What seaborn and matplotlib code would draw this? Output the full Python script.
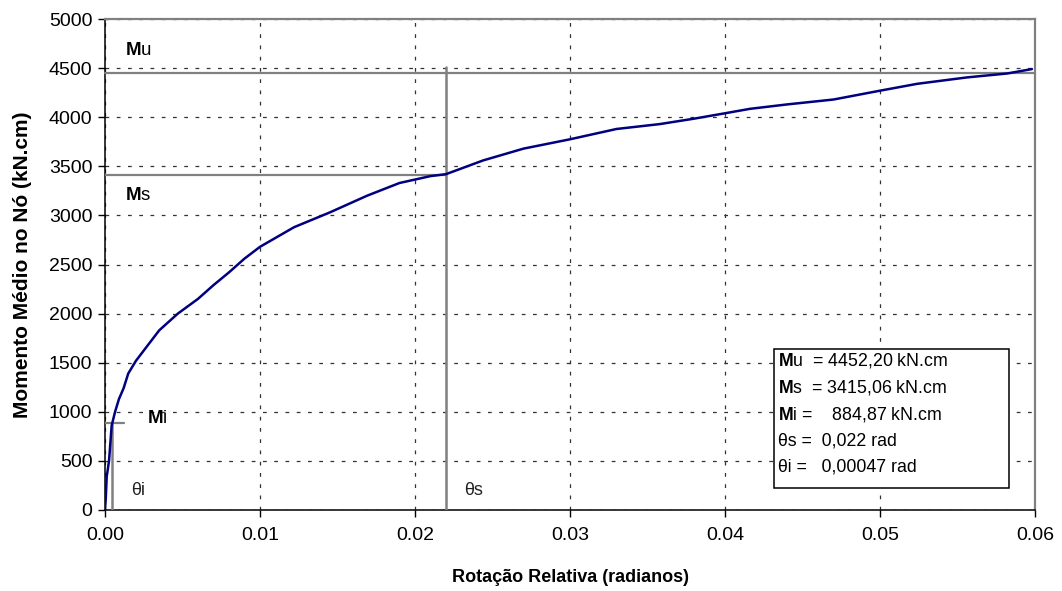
import matplotlib
matplotlib.use("Agg")
import matplotlib.pyplot as plt
import pandas as pd
import seaborn as sns
from matplotlib.patches import Rectangle
from matplotlib.ticker import FormatStrFormatter

# Moment-rotation curve of the joint (rad, kN.cm)
rotacao = [0.0, 0.00005, 0.00011, 0.00026, 0.00043, 0.00047, 0.00065, 0.0009,
           0.0012, 0.0015, 0.0020, 0.0027, 0.0035, 0.0047, 0.0060, 0.0070,
           0.0080, 0.0090, 0.0100, 0.0122, 0.0145, 0.0169, 0.0190, 0.0210,
           0.0220, 0.0244, 0.0270, 0.0300, 0.0330, 0.0358, 0.0380, 0.0400,
           0.0416, 0.0440, 0.0470, 0.0500, 0.0524, 0.0556, 0.0582, 0.0598]
momento = [0, 120, 340, 500, 860, 885, 1000, 1130,
           1240, 1390, 1520, 1665, 1830, 2000, 2150, 2290,
           2420, 2560, 2680, 2880, 3030, 3200, 3330, 3400,
           3420, 3560, 3680, 3775, 3880, 3930, 3985, 4040,
           4085, 4130, 4180, 4270, 4340, 4405, 4445, 4490]

# Characteristic values
m_u = 4452.20
m_s = 3415.06
m_i = 884.87
theta_s = 0.022
theta_i = 0.00047

legend_lines = [
    r"$\mathbf{M}$u  = 4452,20 kN.cm",
    r"$\mathbf{M}$s  = 3415,06 kN.cm",
    r"$\mathbf{M}$i =    884,87 kN.cm",
    "θs =  0,022 rad",
    "θi =   0,00047 rad",
]

x_ticks = [0.00, 0.01, 0.02, 0.03, 0.04, 0.05, 0.06]
y_ticks = [0, 500, 1000, 1500, 2000, 2500, 3000, 3500, 4000, 4500, 5000]

sns.set_theme(style="white")
plt.rcParams["font.family"] = ["Liberation Sans", "DejaVu Sans"]
plt.rcParams["mathtext.fontset"] = "custom"
plt.rcParams["mathtext.bf"] = "Liberation Sans:bold"
plt.rcParams["mathtext.rm"] = "Liberation Sans"
plt.rcParams["mathtext.it"] = "Liberation Sans:italic"

W, H = 1062, 591
fig = plt.figure(figsize=(W / 100, H / 100), dpi=100)
ax = fig.add_axes([105 / W, (H - 510) / H, 930 / W, 491 / H])

df = pd.DataFrame({"rotacao": rotacao, "momento": momento})

grey = "#808080"
# reference lines for the characteristic points
ax.plot([0, 0.06], [m_u, m_u], color=grey, lw=1.6, clip_on=False, zorder=3)
ax.plot([0, theta_s], [m_s, m_s], color=grey, lw=1.6, zorder=3)
ax.plot([theta_s, theta_s], [0, m_u + 60], color=grey, lw=1.8, zorder=3)
ax.plot([0, 0.0012], [m_i, m_i], color=grey, lw=1.6, zorder=3)
ax.plot([theta_i, theta_i], [0, m_i], color=grey, lw=1.8, zorder=3)

sns.lineplot(data=df, x="rotacao", y="momento", color="#000080", lw=1.8,
             sort=False, estimator=None, ax=ax, zorder=4)

ax.set_xlim(0, 0.06)
ax.set_ylim(0, 5000)
ax.set_xticks(x_ticks)
ax.set_yticks(y_ticks)
ax.xaxis.set_major_formatter(FormatStrFormatter("%.2f"))

ax.set_axisbelow(True)
ax.grid(True, color="#333333", linestyle=(0, (3, 6)), linewidth=0.9)

for side in ("left", "bottom"):
    ax.spines[side].set_color("black")
    ax.spines[side].set_linewidth(1.1)
for side in ("top", "right"):
    ax.spines[side].set_color(grey)
    ax.spines[side].set_linewidth(1.6)

ax.tick_params(axis="both", which="major", bottom=True, left=True,
               direction="out", length=5, width=1, color="black",
               labelsize=14, labelcolor="black")
ax.tick_params(axis="x", pad=7)
ax.tick_params(axis="y", pad=4)

ax.set_xlabel("Rotação Relativa (radianos)", fontsize=13, fontweight="bold",
              labelpad=18, color="black")
ax.set_ylabel("Momento Médio no Nó (kN.cm)", fontsize=15, fontweight="bold",
              labelpad=12, color="black")

lbl = dict(fontsize=13.5, va="center", ha="left", color="black", zorder=5)
ax.text(0.0013, 4680, r"$\mathbf{M}$u", **lbl)
ax.text(0.0013, 3200, r"$\mathbf{M}$s", **lbl)
ax.text(0.0027, 935, r"$\mathbf{M}$i", **lbl)
ax.text(0.0017, 200, "θi", fontsize=13, va="center", ha="left", color="#222222")
ax.text(0.0232, 200, "θs", fontsize=13, va="center", ha="left", color="#222222")

# summary box
ax.add_patch(Rectangle((0.7194, 0.0448), 0.2527, 0.2831, transform=ax.transAxes,
                       facecolor="white", edgecolor="black", lw=1.1, zorder=6))
for k, line in enumerate(legend_lines):
    ax.text(0.7237, 0.3035 - k * 0.054, line, transform=ax.transAxes,
            fontsize=12.8, va="center", ha="left", color="black", zorder=7)

fig.savefig("out.png", dpi=100, facecolor="white")
